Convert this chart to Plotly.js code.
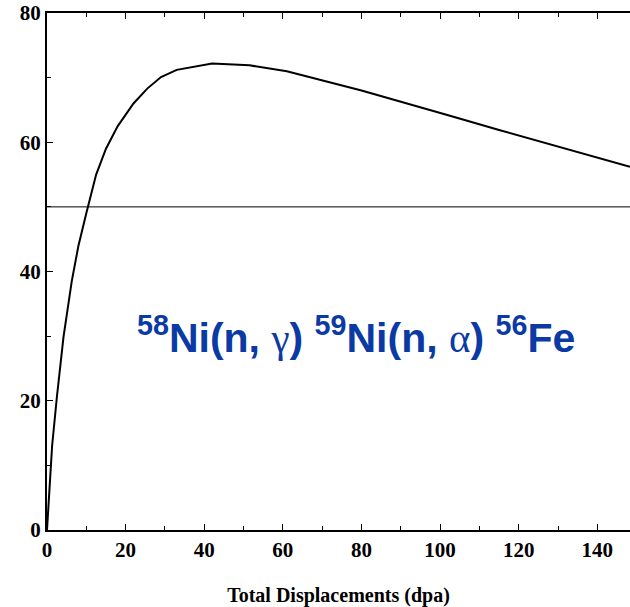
<!DOCTYPE html>
<html>
<head>
<meta charset="utf-8">
<script src="https://cdn.plot.ly/plotly-3.0.1.min.js"></script>
<style>
html,body{margin:0;padding:0;background:#fff;}
#chart{width:630px;height:607px;}
</style>
</head>
<body>
<div id="chart"></div>
<script>
// Total displacements (dpa)
var dpa = [0, 1.3, 2.5, 4.2, 6.3, 8, 10, 12.5, 15, 18, 22, 25.5, 29, 33, 42, 51.5, 61, 80, 102.5, 115, 148.3];
// Curve values
var values = [0, 13, 20.5, 29.9, 38.5, 44, 49, 55, 59, 62.5, 66, 68.3, 70.1, 71.2, 72.2, 71.9, 71, 68, 64.1, 61.9, 56.2];
var referenceLevel = 50;
var xTickVals = [0, 20, 40, 60, 80, 100, 120, 140];
var yTickVals = [0, 20, 40, 60, 80];
var xTitle = 'Total Displacements (dpa)';
var reactionLabel = '<sup>58</sup>Ni(n, <span style="font-family:\'Liberation Serif\';font-weight:normal">γ</span>) <sup>59</sup>Ni(n, <span style="font-family:\'Liberation Serif\';font-weight:normal">α</span>) <sup>56</sup>Fe';

var trace = {
  x: dpa, y: values, type: 'scatter', mode: 'lines',
  line: {color: '#000', width: 2},
  hoverinfo: 'none', showlegend: false
};

var tickFont = {family: 'Liberation Serif, Times New Roman, serif', size: 21, color: '#000'};
function bold(v) { return '<b>' + v + '</b>'; }

var layout = {
  width: 630, height: 607,
  margin: {l: 47, r: 0, t: 13, b: 77},
  paper_bgcolor: '#fff', plot_bgcolor: '#fff',
  showlegend: false,
  xaxis: {
    range: [0, 148.3], tickvals: xTickVals, ticktext: xTickVals.map(bold),
    ticks: 'inside', ticklen: 6, tickwidth: 1, tickcolor: '#000',
    minor: {dtick: 10, tick0: 0, ticks: 'inside', ticklen: 4, tickwidth: 1, tickcolor: '#000'},
    showline: true, linecolor: '#000', linewidth: 2, mirror: 'ticks',
    showgrid: false, zeroline: false,
    tickfont: tickFont,
    title: {text: '<b>' + xTitle + '</b>', font: {family: 'Liberation Serif, Times New Roman, serif', size: 20, color: '#000'}, standoff: 29}
  },
  yaxis: {
    range: [0, 80], tickvals: yTickVals, ticktext: yTickVals.map(bold),
    ticks: 'inside', ticklen: 6, tickwidth: 1, tickcolor: '#000',
    minor: {dtick: 10, tick0: 0, ticks: 'inside', ticklen: 4, tickwidth: 1, tickcolor: '#000'},
    showline: true, linecolor: '#000', linewidth: 2,
    showgrid: false, zeroline: false,
    tickfont: tickFont, ticklabelstandoff: 0
  },
  shapes: [{
    type: 'line', xref: 'paper', x0: 0, x1: 1, yref: 'y', y0: referenceLevel, y1: referenceLevel,
    line: {color: '#000', width: 1}
  }],
  annotations: [{
    x: 78.6, y: 30.2, xref: 'x', yref: 'y', showarrow: false,
    text: '<b>' + reactionLabel + '</b>',
    font: {family: 'Liberation Sans, Arial, sans-serif', size: 41, color: '#0b3aa5'}
  }]
};

Plotly.newPlot('chart', [trace], layout, {displayModeBar: false, staticPlot: true});
</script>
</body>
</html>
